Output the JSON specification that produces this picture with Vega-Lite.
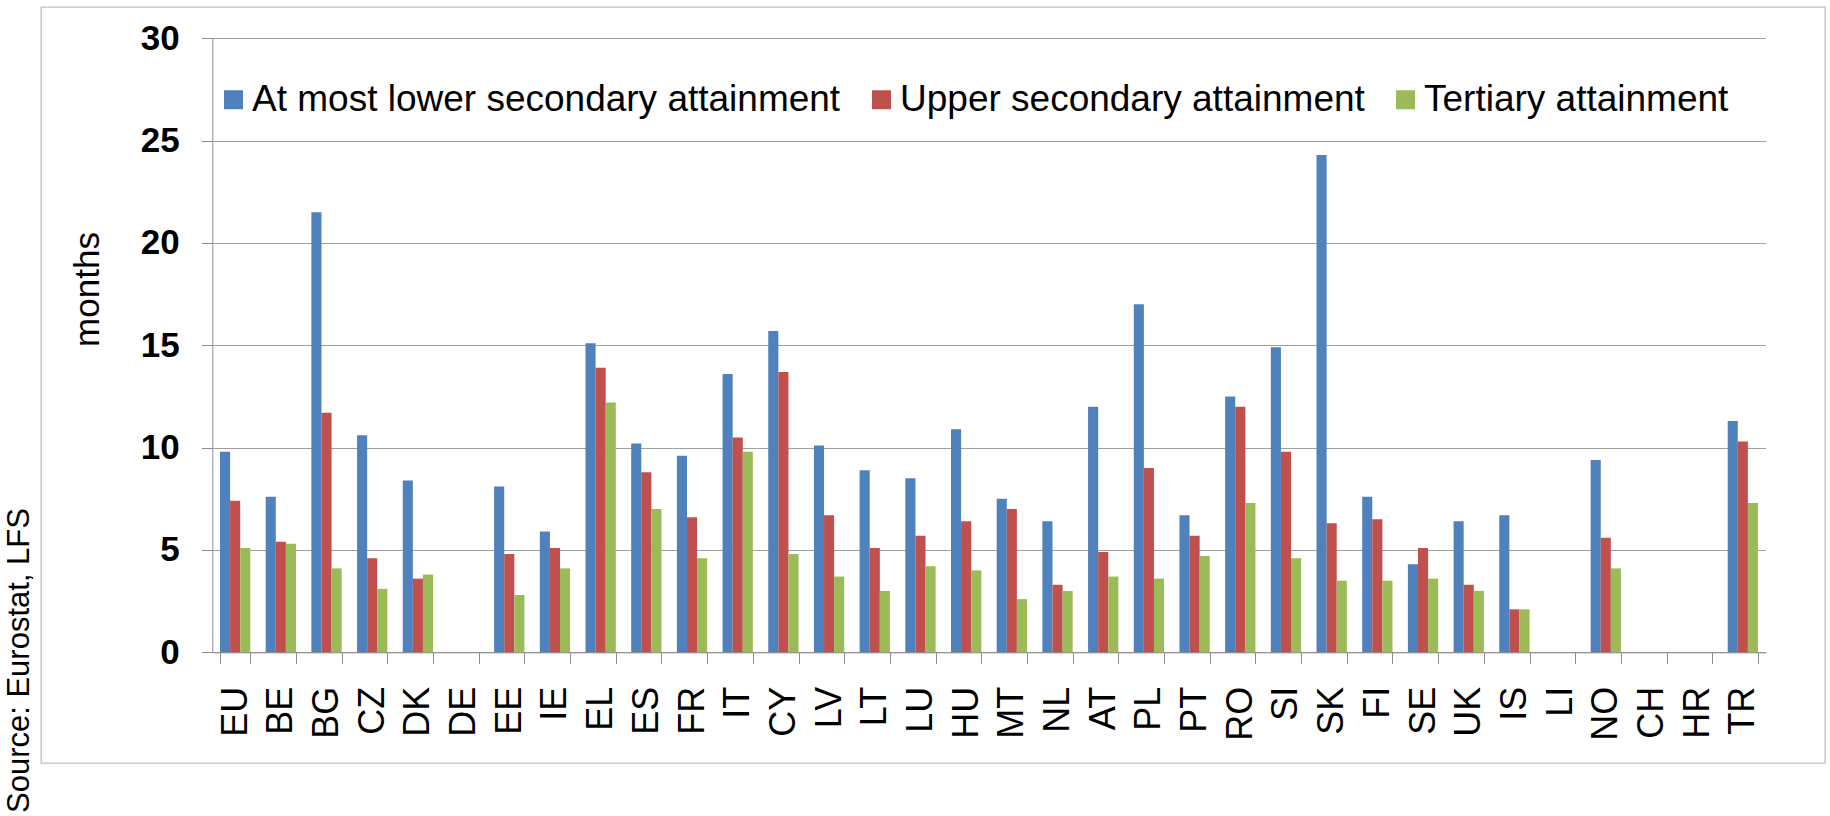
{
  "$schema": "https://vega.github.io/schema/vega-lite/v6.json",
  "width": 1784,
  "height": 756,
  "autosize": {"type": "none"},
  "padding": {"left": 41, "top": 7, "right": 5, "bottom": 53},
  "background": "white",
  "config": {
    "font": "Liberation Sans",
    "view": {"stroke": "#bfbfbf", "strokeWidth": 1.3}
  },
  "title": {
    "text": "Source: Eurostat, LFS",
    "orient": "left",
    "anchor": "start",
    "frame": "group",
    "offset": -13,
    "dx": -50,
    "font": "Liberation Sans",
    "fontSize": 31,
    "fontStyle": "normal",
    "fontWeight": "normal",
    "color": "black"
  },
  "data": {
    "values": [
      {"country": "EU", "level": "At most lower secondary attainment", "months": 9.8},
      {"country": "EU", "level": "Upper secondary attainment", "months": 7.4},
      {"country": "EU", "level": "Tertiary attainment", "months": 5.1},
      {"country": "BE", "level": "At most lower secondary attainment", "months": 7.6},
      {"country": "BE", "level": "Upper secondary attainment", "months": 5.4},
      {"country": "BE", "level": "Tertiary attainment", "months": 5.3},
      {"country": "BG", "level": "At most lower secondary attainment", "months": 21.5},
      {"country": "BG", "level": "Upper secondary attainment", "months": 11.7},
      {"country": "BG", "level": "Tertiary attainment", "months": 4.1},
      {"country": "CZ", "level": "At most lower secondary attainment", "months": 10.6},
      {"country": "CZ", "level": "Upper secondary attainment", "months": 4.6},
      {"country": "CZ", "level": "Tertiary attainment", "months": 3.1},
      {"country": "DK", "level": "At most lower secondary attainment", "months": 8.4},
      {"country": "DK", "level": "Upper secondary attainment", "months": 3.6},
      {"country": "DK", "level": "Tertiary attainment", "months": 3.8},
      {"country": "EE", "level": "At most lower secondary attainment", "months": 8.1},
      {"country": "EE", "level": "Upper secondary attainment", "months": 4.8},
      {"country": "EE", "level": "Tertiary attainment", "months": 2.8},
      {"country": "IE", "level": "At most lower secondary attainment", "months": 5.9},
      {"country": "IE", "level": "Upper secondary attainment", "months": 5.1},
      {"country": "IE", "level": "Tertiary attainment", "months": 4.1},
      {"country": "EL", "level": "At most lower secondary attainment", "months": 15.1},
      {"country": "EL", "level": "Upper secondary attainment", "months": 13.9},
      {"country": "EL", "level": "Tertiary attainment", "months": 12.2},
      {"country": "ES", "level": "At most lower secondary attainment", "months": 10.2},
      {"country": "ES", "level": "Upper secondary attainment", "months": 8.8},
      {"country": "ES", "level": "Tertiary attainment", "months": 7.0},
      {"country": "FR", "level": "At most lower secondary attainment", "months": 9.6},
      {"country": "FR", "level": "Upper secondary attainment", "months": 6.6},
      {"country": "FR", "level": "Tertiary attainment", "months": 4.6},
      {"country": "IT", "level": "At most lower secondary attainment", "months": 13.6},
      {"country": "IT", "level": "Upper secondary attainment", "months": 10.5},
      {"country": "IT", "level": "Tertiary attainment", "months": 9.8},
      {"country": "CY", "level": "At most lower secondary attainment", "months": 15.7},
      {"country": "CY", "level": "Upper secondary attainment", "months": 13.7},
      {"country": "CY", "level": "Tertiary attainment", "months": 4.8},
      {"country": "LV", "level": "At most lower secondary attainment", "months": 10.1},
      {"country": "LV", "level": "Upper secondary attainment", "months": 6.7},
      {"country": "LV", "level": "Tertiary attainment", "months": 3.7},
      {"country": "LT", "level": "At most lower secondary attainment", "months": 8.9},
      {"country": "LT", "level": "Upper secondary attainment", "months": 5.1},
      {"country": "LT", "level": "Tertiary attainment", "months": 3.0},
      {"country": "LU", "level": "At most lower secondary attainment", "months": 8.5},
      {"country": "LU", "level": "Upper secondary attainment", "months": 5.7},
      {"country": "LU", "level": "Tertiary attainment", "months": 4.2},
      {"country": "HU", "level": "At most lower secondary attainment", "months": 10.9},
      {"country": "HU", "level": "Upper secondary attainment", "months": 6.4},
      {"country": "HU", "level": "Tertiary attainment", "months": 4.0},
      {"country": "MT", "level": "At most lower secondary attainment", "months": 7.5},
      {"country": "MT", "level": "Upper secondary attainment", "months": 7.0},
      {"country": "MT", "level": "Tertiary attainment", "months": 2.6},
      {"country": "NL", "level": "At most lower secondary attainment", "months": 6.4},
      {"country": "NL", "level": "Upper secondary attainment", "months": 3.3},
      {"country": "NL", "level": "Tertiary attainment", "months": 3.0},
      {"country": "AT", "level": "At most lower secondary attainment", "months": 12.0},
      {"country": "AT", "level": "Upper secondary attainment", "months": 4.9},
      {"country": "AT", "level": "Tertiary attainment", "months": 3.7},
      {"country": "PL", "level": "At most lower secondary attainment", "months": 17.0},
      {"country": "PL", "level": "Upper secondary attainment", "months": 9.0},
      {"country": "PL", "level": "Tertiary attainment", "months": 3.6},
      {"country": "PT", "level": "At most lower secondary attainment", "months": 6.7},
      {"country": "PT", "level": "Upper secondary attainment", "months": 5.7},
      {"country": "PT", "level": "Tertiary attainment", "months": 4.7},
      {"country": "RO", "level": "At most lower secondary attainment", "months": 12.5},
      {"country": "RO", "level": "Upper secondary attainment", "months": 12.0},
      {"country": "RO", "level": "Tertiary attainment", "months": 7.3},
      {"country": "SI", "level": "At most lower secondary attainment", "months": 14.9},
      {"country": "SI", "level": "Upper secondary attainment", "months": 9.8},
      {"country": "SI", "level": "Tertiary attainment", "months": 4.6},
      {"country": "SK", "level": "At most lower secondary attainment", "months": 24.3},
      {"country": "SK", "level": "Upper secondary attainment", "months": 6.3},
      {"country": "SK", "level": "Tertiary attainment", "months": 3.5},
      {"country": "FI", "level": "At most lower secondary attainment", "months": 7.6},
      {"country": "FI", "level": "Upper secondary attainment", "months": 6.5},
      {"country": "FI", "level": "Tertiary attainment", "months": 3.5},
      {"country": "SE", "level": "At most lower secondary attainment", "months": 4.3},
      {"country": "SE", "level": "Upper secondary attainment", "months": 5.1},
      {"country": "SE", "level": "Tertiary attainment", "months": 3.6},
      {"country": "UK", "level": "At most lower secondary attainment", "months": 6.4},
      {"country": "UK", "level": "Upper secondary attainment", "months": 3.3},
      {"country": "UK", "level": "Tertiary attainment", "months": 3.0},
      {"country": "IS", "level": "At most lower secondary attainment", "months": 6.7},
      {"country": "IS", "level": "Upper secondary attainment", "months": 2.1},
      {"country": "IS", "level": "Tertiary attainment", "months": 2.1},
      {"country": "NO", "level": "At most lower secondary attainment", "months": 9.4},
      {"country": "NO", "level": "Upper secondary attainment", "months": 5.6},
      {"country": "NO", "level": "Tertiary attainment", "months": 4.1},
      {"country": "TR", "level": "At most lower secondary attainment", "months": 11.3},
      {"country": "TR", "level": "Upper secondary attainment", "months": 10.3},
      {"country": "TR", "level": "Tertiary attainment", "months": 7.3}
    ]
  },
  "mark": {"type": "bar"},
  "encoding": {
    "x": {
      "field": "country",
      "type": "nominal",
      "sort": null,
      "scale": {
        "domain": ["EU","BE","BG","CZ","DK","DE","EE","IE","EL","ES","FR","IT","CY","LV","LT","LU","HU","MT","NL","AT","PL","PT","RO","SI","SK","FI","SE","UK","IS","LI","NO","CH","HR","TR"],
        "range": [171.3, 1724.7],
        "paddingInner": 0.337,
        "paddingOuter": 0.1685
      },
      "axis": {
        "title": null,
        "offset": -110.7,
        "labelAngle": -90,
        "labelFontSize": 36,
        "labelColor": "black",
        "labelPadding": 23,
        "tickSize": 11,
        "tickBand": "extent",
        "tickColor": "#8c8c8c",
        "domainColor": "#8c8c8c",
        "grid": false
      }
    },
    "xOffset": {
      "field": "level",
      "type": "nominal",
      "sort": ["At most lower secondary attainment", "Upper secondary attainment", "Tertiary attainment"],
      "scale": {"paddingInner": 0, "paddingOuter": 0}
    },
    "y": {
      "field": "months",
      "type": "quantitative",
      "scale": {"domain": [0, 30], "range": [645.3, 31.3], "nice": false},
      "axis": {
        "title": "months",
        "values": [0, 5, 10, 15, 20, 25, 30],
        "offset": -171.3,
        "labelFontSize": 35,
        "labelFontWeight": "bold",
        "labelColor": "black",
        "labelPadding": 22,
        "tickSize": 11,
        "tickColor": "#8c8c8c",
        "domainColor": "#8c8c8c",
        "grid": true,
        "gridColor": "#a0a0a0",
        "titleFontSize": 35,
        "titleFontWeight": "normal",
        "titleColor": "black",
        "titlePadding": 35,
        "titleY": 282
      }
    },
    "color": {
      "field": "level",
      "type": "nominal",
      "scale": {
        "domain": ["At most lower secondary attainment", "Upper secondary attainment", "Tertiary attainment"],
        "range": ["#4F81BD", "#C0504D", "#9BBB59"]
      },
      "legend": {
        "orient": "none",
        "legendX": 174,
        "legendY": 74,
        "direction": "horizontal",
        "title": null,
        "labelFontSize": 37,
        "labelColor": "black",
        "labelLimit": 1000,
        "symbolType": "square",
        "symbolSize": 361,
        "symbolStrokeWidth": 0,
        "symbolOpacity": 1,
        "labelOffset": 0,
        "columnPadding": 22,
        "padding": 0
      }
    }
  }
}
